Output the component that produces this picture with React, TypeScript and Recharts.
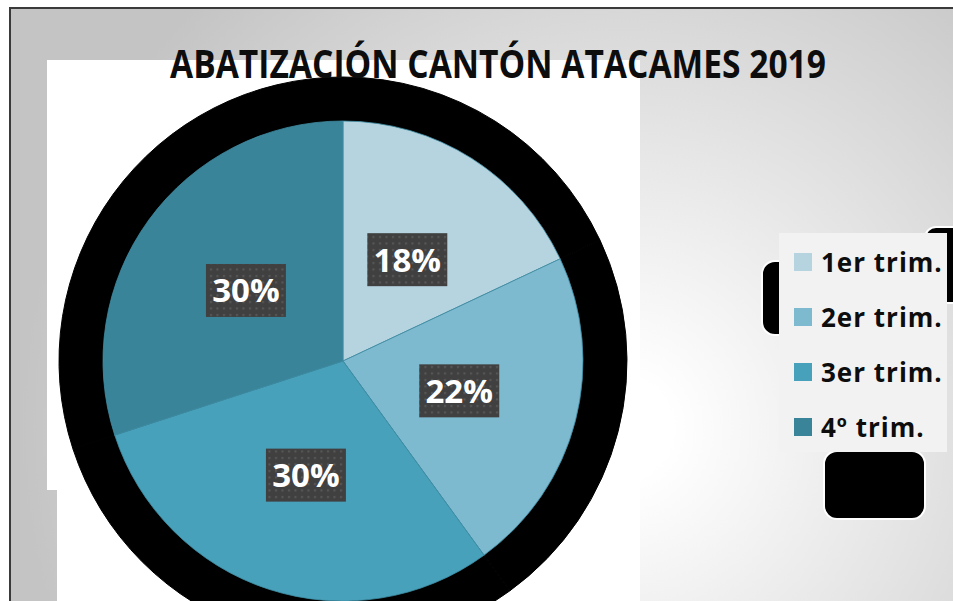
import { PieChart, Pie, Cell, Legend } from "recharts";

const title = "ABATIZACIÓN CANTÓN ATACAMES 2019";
const categories = ["1er trim.", "2er trim.", "3er trim.", "4º trim."];
const shares = [18, 22, 30, 30];
const colors = ["#b5d4e0", "#7db9cf", "#47a1bb", "#3a8499"];

const data = categories.map((name, i) => ({ name, value: shares[i] }));

const RAD = Math.PI / 180;
const FONT = "'Open Sans', Lato, sans-serif";
const NO_MARGIN = { top: 0, right: 0, bottom: 0, left: 0 };

function PctLabel(props: any) {
  const { cx, cy, midAngle, outerRadius, percent } = props;
  const r = outerRadius * 0.5;
  const x = cx + r * Math.cos(-midAngle * RAD);
  const y = cy + r * Math.sin(-midAngle * RAD);
  return (
    <g>
      <rect x={x - 40} y={y - 26.5} width={80} height={53} fill="url(#dots)" />
      <text
        x={x}
        y={y + 12}
        textAnchor="middle"
        fill="#ffffff"
        fontSize={33}
        fontWeight={700}
        fontFamily={FONT}
      >
        {`${Math.round(percent * 100)}%`}
      </text>
    </g>
  );
}

function LegendBox({ payload }: any) {
  return (
    <div style={{ width: 168, height: 219, background: "#f2f2f2", paddingTop: 1, boxSizing: "border-box" }}>
      {(payload || []).map((p: any) => (
        <div key={p.value} style={{ height: 55, display: "flex", alignItems: "center" }}>
          <span style={{ width: 18, height: 18, marginLeft: 15, background: p.color, display: "inline-block" }} />
          <span
            style={{
              marginLeft: 9,
              fontFamily: FONT,
              fontWeight: 700,
              fontSize: 26,
              letterSpacing: 1,
              color: "#0d0d0d",
              lineHeight: "30px",
            }}
          >
            {p.value}
          </span>
        </div>
      ))}
    </div>
  );
}

const blackBox = (left: number, top: number, width: number, height: number, radius: number) => (
  <div
    style={{
      position: "absolute",
      left,
      top,
      width,
      height,
      background: "#000",
      border: "2px solid #fff",
      borderRadius: radius,
      boxSizing: "border-box",
    }}
  />
);

export default function App() {
  return (
    <div style={{ position: "absolute", left: 0, top: 0, width: 953, height: 601, overflow: "hidden", background: "#fff" }}>
      <svg width={0} height={0} style={{ position: "absolute" }}>
        <defs>
          <pattern id="dots" width={6.5} height={6.5} patternUnits="userSpaceOnUse">
            <rect width={6.5} height={6.5} fill="#404040" />
            <rect x={2} y={2} width={2} height={2} fill="#5a5a5a" />
          </pattern>
        </defs>
      </svg>
      <div
        style={{
          position: "absolute",
          left: 9,
          top: 7,
          width: 944,
          height: 594,
          borderLeft: "2px solid #3a3a3a",
          borderTop: "2px solid #3a3a3a",
          boxSizing: "border-box",
          background: "radial-gradient(circle at 610px 420px, #ffffff 0px, #ffffff 50px, #c4c4c4 600px)",
        }}
      />
      <div style={{ position: "absolute", left: 47, top: 60, width: 593, height: 430, background: "#fff" }} />
      <div style={{ position: "absolute", left: 57, top: 490, width: 583, height: 111, background: "#fff" }} />
      {blackBox(761, 260, 40, 76, 14)}
      {blackBox(924, 226, 40, 78, 12)}
      {blackBox(823, 450, 103, 70, 14)}
      {/* black shadow behind the pie */}
      <div style={{ position: "absolute", left: 0, top: 0 }}>
        <PieChart width={953} height={601} margin={NO_MARGIN}>
          <Pie
            data={data}
            dataKey="value"
            nameKey="name"
            cx={343}
            cy={361}
            outerRadius={284}
            startAngle={90}
            endAngle={-270}
            fill="#000"
            stroke="#000"
            strokeWidth={1}
            isAnimationActive={false}
          />
        </PieChart>
      </div>
      <div style={{ position: "absolute", left: 0, top: 0 }}>
        <PieChart width={953} height={601} margin={NO_MARGIN}>
          <Pie
            data={data}
            dataKey="value"
            nameKey="name"
            cx={343}
            cy={361}
            outerRadius={240}
            startAngle={90}
            endAngle={-270}
            stroke="#3f8ea5"
            strokeWidth={0.8}
            label={PctLabel}
            labelLine={false}
            isAnimationActive={false}
          >
            {data.map((d, i) => (
              <Cell key={d.name} fill={colors[i]} />
            ))}
          </Pie>
          <Legend
            layout="vertical"
            align="right"
            verticalAlign="top"
            content={<LegendBox />}
            wrapperStyle={{ position: "absolute", left: 779, top: 233, width: 168, height: 219 }}
          />
        </PieChart>
      </div>
      <svg width={953} height={100} style={{ position: "absolute", left: 0, top: 0 }}>
        <text
          x={498}
          y={78}
          textAnchor="middle"
          textLength={656}
          lengthAdjust="spacingAndGlyphs"
          fontFamily={FONT}
          fontWeight={700}
          fontSize={39}
          fill="#0d0d0d"
        >
          {title}
        </text>
      </svg>
    </div>
  );
}
